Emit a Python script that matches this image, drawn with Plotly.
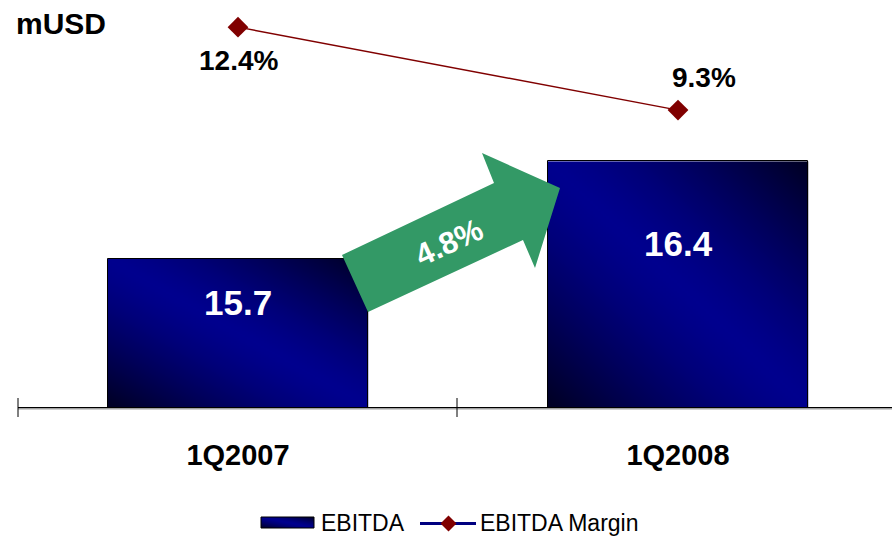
import base64
import struct
import zlib

import plotly.graph_objects as go

# ---- data -------------------------------------------------------------
categories = ["1Q2007", "1Q2008"]
ebitda = [15.7, 16.4]                 # mUSD
ebitda_margin = [12.4, 9.3]           # %
growth_label = "4.8%"
unit_label = "mUSD"
series_names = ["EBITDA", "EBITDA Margin"]

# ---- styling ----------------------------------------------------------
FONT = "Arial, 'Liberation Sans', sans-serif"
NAVY = "#000080"
MARGIN_RED = "#800000"
ARROW_GREEN = "#339966"

W, H = 892, 537
ML, MR, MT, MB = 18, 0, 10, 130
PW = W - ML - MR
PH = H - MT - MB

bar_width = 0.592
x_range = [-0.5, -0.5 + PW / 440.0]
y_min = 14.633
y_range = [y_min, y_min + PH / 139.0]
y2_range = [-1.79, -1.79 + PH / 26.77]

value_label_shift = [-44, -82]        # px below the bar top
margin_label_shift = [(0, -33), (26, 33)]


def to_paper(px, py):
    """Convert a pixel position on the page to paper coordinates."""
    return (px - ML) / PW, (H - MB - py) / PH


def gradient_png(n=96, bright=142, dark=36, power=1.35):
    """Diagonal navy gradient: light along the TL-BR diagonal, dark in the other corners."""
    rows = []
    for j in range(n):
        v = j / (n - 1)
        row = bytearray([0])
        for i in range(n):
            u = i / (n - 1)
            t = abs(u - v) ** power
            b = int(round(bright - (bright - dark) * t))
            row += bytes((0, 0, b))
        rows.append(bytes(row))
    raw = b"".join(rows)

    def chunk(tag, data):
        c = struct.pack(">I", len(data)) + tag + data
        return c + struct.pack(">I", zlib.crc32(tag + data) & 0xFFFFFFFF)

    png = (b"\x89PNG\r\n\x1a\n"
           + chunk(b"IHDR", struct.pack(">IIBBBBB", n, n, 8, 2, 0, 0, 0))
           + chunk(b"IDAT", zlib.compress(raw, 9))
           + chunk(b"IEND", b""))
    return "data:image/png;base64," + base64.b64encode(png).decode()


GRAD = gradient_png()
x_pos = list(range(len(categories)))

fig = go.Figure()

# EBITDA bars (outline; fill supplied by the gradient images below)
fig.add_trace(go.Bar(
    x=x_pos, y=ebitda, width=bar_width, name=series_names[0],
    marker=dict(color="rgba(0,0,0,0)", line=dict(color="black", width=1)),
    showlegend=False, hoverinfo="x+y",
))

# EBITDA margin line on the secondary axis
fig.add_trace(go.Scatter(
    x=x_pos, y=ebitda_margin, yaxis="y2", name=series_names[1],
    mode="lines+markers",
    line=dict(color=MARGIN_RED, width=1.5),
    marker=dict(symbol="diamond", size=16, color=MARGIN_RED),
    showlegend=False, cliponaxis=False,
))

images = []
for xi, val in zip(x_pos, ebitda):
    images.append(dict(
        source=GRAD, xref="x", yref="y",
        x=xi - bar_width / 2, y=val,
        sizex=bar_width, sizey=val - y_min,
        xanchor="left", yanchor="top", sizing="stretch", layer="below",
    ))

annotations = []
# bar value labels
for xi, val, dy in zip(x_pos, ebitda, value_label_shift):
    annotations.append(dict(
        x=xi, y=val, xref="x", yref="y", yshift=dy, showarrow=False,
        text=f"{val:.1f}",
        font=dict(family=FONT, size=35, color="white", weight="bold"),
    ))
# margin labels
for xi, val, (dx, dy) in zip(x_pos, ebitda_margin, margin_label_shift):
    annotations.append(dict(
        x=xi, y=val, xref="x", yref="y2", xshift=dx, yshift=dy, showarrow=False,
        text=f"{val:.1f}%",
        font=dict(family=FONT, size=28, color="black", weight="bold"),
    ))

# unit label
ux, uy = to_paper(14, 23)
annotations.append(dict(
    x=ux, y=uy, xref="paper", yref="paper", xanchor="left", yanchor="middle",
    showarrow=False, text=unit_label,
    font=dict(family=FONT, size=30, color="black", weight="bold"),
))

# growth arrow
arrow_px = [(342, 255), (494, 183), (482, 153), (560, 188),
            (535, 268), (523, 240), (368, 312)]
pts = [to_paper(px, py) for px, py in arrow_px]
arrow_path = "M " + " L ".join(f"{x:.5f},{y:.5f}" for x, y in pts) + " Z"
gx, gy = to_paper(449, 243)
annotations.append(dict(
    x=gx, y=gy, xref="paper", yref="paper", showarrow=False, textangle=-25,
    text=growth_label,
    font=dict(family=FONT, size=31, color="white", weight="bold"),
))

shapes = [
    dict(type="path", path=arrow_path, xref="paper", yref="paper",
         fillcolor=ARROW_GREEN, line=dict(width=0), layer="above"),
]

# axis shadow and tick crosses
sx0, sy = to_paper(ML, 408.8)
sx1, _ = to_paper(W, 408.8)
shapes.append(dict(type="line", xref="paper", yref="paper",
                   x0=sx0, x1=sx1, y0=sy, y1=sy,
                   line=dict(color="#a0a0a0", width=1.5)))
for tpx in (18, 457):
    tx, ty0 = to_paper(tpx, 417)
    _, ty1 = to_paper(tpx, 398)
    shapes.append(dict(type="line", xref="paper", yref="paper",
                       x0=tx, x1=tx, y0=ty0, y1=ty1,
                       line=dict(color="black", width=1)))

# legend: gradient swatch, line with diamond, labels
lx0, ly1 = to_paper(261, 517)
lx1, ly0 = to_paper(314, 528)
images.append(dict(
    source=GRAD, xref="paper", yref="paper", x=lx0, y=ly1,
    sizex=lx1 - lx0, sizey=ly1 - ly0, xanchor="left", yanchor="top",
    sizing="stretch", layer="above",
))
shapes.append(dict(type="rect", xref="paper", yref="paper",
                   x0=lx0, x1=lx1, y0=ly0, y1=ly1,
                   line=dict(color="black", width=1)))
ax0, ay = to_paper(420, 523.5)
ax1, _ = to_paper(476, 523.5)
shapes.append(dict(type="line", xref="paper", yref="paper",
                   x0=ax0, x1=ax1, y0=ay, y1=ay,
                   line=dict(color=NAVY, width=3)))
dpts = [to_paper(448.5 + dx, 523.5 + dy) for dx, dy in ((0, -8), (8, 0), (0, 8), (-8, 0))]
shapes.append(dict(type="path", xref="paper", yref="paper",
                   path="M " + " L ".join(f"{x:.5f},{y:.5f}" for x, y in dpts) + " Z",
                   fillcolor=MARGIN_RED, line=dict(width=0)))
for name, px in zip(series_names, (319, 478)):
    tx, ty = to_paper(px, 522.5)
    annotations.append(dict(
        x=tx, y=ty, xref="paper", yref="paper", xanchor="left", yanchor="middle",
        showarrow=False, text=name,
        font=dict(family=FONT, size=23, color="black"),
    ))

fig.update_layout(
    width=W, height=H,
    margin=dict(l=ML, r=MR, t=MT, b=MB, pad=0),
    paper_bgcolor="white", plot_bgcolor="white",
    showlegend=False, bargap=0,
    xaxis=dict(
        range=x_range, tickmode="array", tickvals=x_pos, ticktext=categories,
        showgrid=False, zeroline=False, ticks="",
        showline=True, linecolor="black", linewidth=1,
        tickfont=dict(family=FONT, size=29, color="black", weight="bold"),
        ticklabelstandoff=22, fixedrange=True,
    ),
    yaxis=dict(range=y_range, visible=False, fixedrange=True),
    yaxis2=dict(range=y2_range, overlaying="y", side="right",
                visible=False, fixedrange=True),
    images=images, shapes=shapes, annotations=annotations,
)

fig.write_html("out.html")
